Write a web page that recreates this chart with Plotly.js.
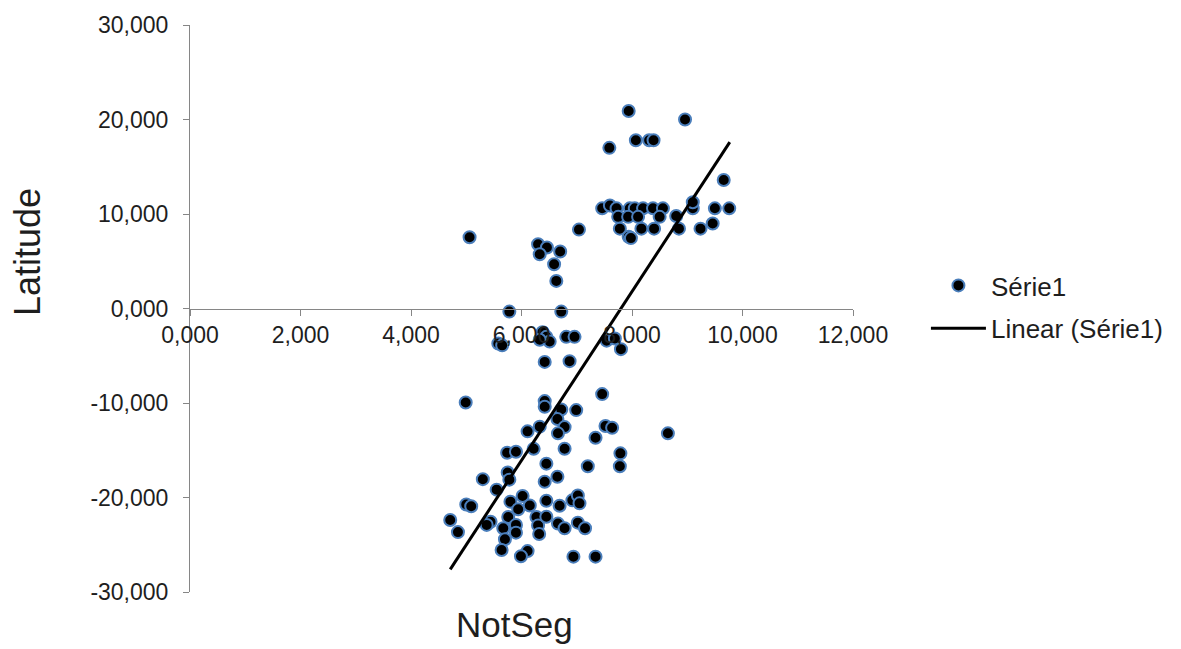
<!DOCTYPE html>
<html>
<head>
<meta charset="utf-8">
<script src="https://cdn.plot.ly/plotly-3.0.1.min.js"></script>
<style>html,body{margin:0;padding:0;background:#fff;}#chart{width:1181px;height:649px;}</style>
</head>
<body>
<div id="chart"></div>
<script>
// NotSeg (x) values
const notSeg = [
  7.94, 8.96, 8.07, 8.31, 8.39, 7.59, 9.66,
  7.46, 7.60, 7.72, 7.96, 8.05, 8.20, 8.38, 8.56, 9.10, 9.10, 9.50, 9.76,
  7.75, 7.93, 8.11, 8.50, 8.80,
  7.78, 8.17, 8.40, 8.85, 9.24, 9.46,
  7.94, 7.98,
  5.06, 7.04, 6.30, 6.46, 6.33, 6.70, 6.59, 6.63, 5.78, 6.72,
  5.58, 5.65, 6.38, 6.45, 6.51, 6.33, 6.81, 6.96, 7.54, 7.69, 7.80, 6.42, 6.87,
  7.46, 4.99, 6.42, 6.42, 6.72, 6.99, 6.11, 6.33, 6.65, 6.78, 6.66, 7.52, 7.64, 7.34, 8.65,
  5.74, 5.90, 6.22, 6.78, 6.45, 7.20, 7.79, 7.78,
  5.30, 5.75, 5.78, 6.42, 6.65, 5.55,
  5.00, 5.09, 5.80, 6.02, 5.94, 6.15, 6.45, 6.69, 6.92, 7.02, 7.05,
  4.71, 4.85, 5.44, 5.37, 5.76, 5.67, 5.90, 5.90, 5.70, 6.27, 6.30, 6.32, 6.45, 6.66, 6.78, 7.02, 7.15,
  5.64, 6.11, 5.99, 6.94, 7.34
];
// Latitude (y) values
const latitude = [
  20.90, 20.00, 17.80, 17.80, 17.80, 17.00, 13.60,
  10.60, 10.90, 10.60, 10.60, 10.60, 10.60, 10.60, 10.60, 10.60, 11.25, 10.60, 10.60,
  9.70, 9.70, 9.70, 9.70, 9.79,
  8.45, 8.45, 8.45, 8.45, 8.45, 8.99,
  7.60, 7.45,
  7.54, 8.35, 6.80, 6.45, 5.74, 6.03, 4.68, 2.92, -0.33, -0.33,
  -3.70, -3.90, -2.50, -3.00, -3.50, -3.30, -3.00, -3.00, -3.40, -3.17, -4.30, -5.65, -5.57,
  -9.06, -9.94, -9.80, -10.40, -10.68, -10.75, -13.00, -12.50, -11.70, -12.55, -13.21, -12.44, -12.62, -13.68, -13.21,
  -15.26, -15.16, -14.85, -14.84, -16.42, -16.70, -15.33, -16.70,
  -18.06, -17.35, -18.11, -18.33, -17.80, -19.17,
  -20.74, -20.93, -20.44, -19.84, -21.25, -20.84, -20.34, -20.88, -20.30, -19.79, -20.62,
  -22.38, -23.66, -22.56, -22.90, -22.06, -23.25, -22.90, -23.72, -24.42, -22.06, -22.95, -23.86, -22.03, -22.76, -23.25, -22.66, -23.25,
  -25.55, -25.67, -26.22, -26.26, -26.26
];
// Linear trend line (Excel "Linear (Série1)") end points
const trendX = [4.71, 9.77];
const trendY = [-27.6, 17.6];

// Axis tick values and labels as shown on the chart
const xTickVals = [0, 2, 4, 6, 8, 10, 12];
const xTickText = ["0,000", "2,000", "4,000", "6,000", "8,000", "10,000", "12,000"];
const yTickVals = [-30, -20, -10, 0, 10, 20, 30];
const yTickText = ["-30,000", "-20,000", "-10,000", "0,000", "10,000", "20,000", "30,000"];

const seriesName = "Série1";
const trendName = "Linear (Série1)";
const xTitle = "NotSeg";
const yTitle = "Latitude";

const font = "Liberation Sans, Arial, sans-serif";
const txt = "#1e1e1e";
const traces = [
  {
    type: "scatter", mode: "markers", name: seriesName,
    x: notSeg, y: latitude, legendgroup: "a",
    marker: { symbol: "circle", size: 12, color: "#000000", line: { color: "#4a7ebb", width: 2 } }
  },
  {
    type: "scatter", mode: "lines", name: trendName,
    x: trendX, y: trendY, legendgroup: "b",
    line: { color: "#000000", width: 3 }
  }
];
const layout = {
  width: 1181, height: 649,
  margin: { l: 190, r: 328, t: 25, b: 57 },
  paper_bgcolor: "#ffffff", plot_bgcolor: "#ffffff",
  font: { family: font, color: txt, size: 23 },
  showlegend: true,
  legend: {
    x: 1.11, y: 0.582, xanchor: "left", yanchor: "top",
    font: { family: font, size: 26, color: txt },
    traceorder: "grouped", tracegroupgap: 6, itemwidth: 55,
    bgcolor: "rgba(0,0,0,0)"
  },
  xaxis: {
    range: [0, 12], tickmode: "array", tickvals: xTickVals, ticktext: xTickText,
    anchor: "free", position: 0.5,
    showline: true, linecolor: "#868686", linewidth: 1,
    ticks: "outside", ticklen: 6, tickcolor: "#868686",
    showgrid: false, zeroline: false,
    tickfont: { family: font, size: 23, color: txt }
  },
  yaxis: {
    range: [-30, 30], tickmode: "array", tickvals: yTickVals, ticktext: yTickText,
    showline: true, linecolor: "#868686", linewidth: 1,
    ticks: "outside", ticklen: 6, tickcolor: "#868686",
    showgrid: false, zeroline: false, ticklabelstandoff: 10,
    tickfont: { family: font, size: 23, color: txt }
  },
  annotations: [
    { text: yTitle, xref: "paper", yref: "paper", x: -0.244, y: 0.6, textangle: -90,
      showarrow: false, xanchor: "center", yanchor: "middle", font: { family: font, size: 36, color: txt } },
    { text: xTitle, xref: "paper", yref: "paper", x: 0.49, y: -0.058, showarrow: false,
      xanchor: "center", yanchor: "middle", font: { family: font, size: 35, color: txt } }
  ]
};
Plotly.newPlot("chart", traces, layout, { displayModeBar: false, staticPlot: true });
</script>
</body>
</html>
